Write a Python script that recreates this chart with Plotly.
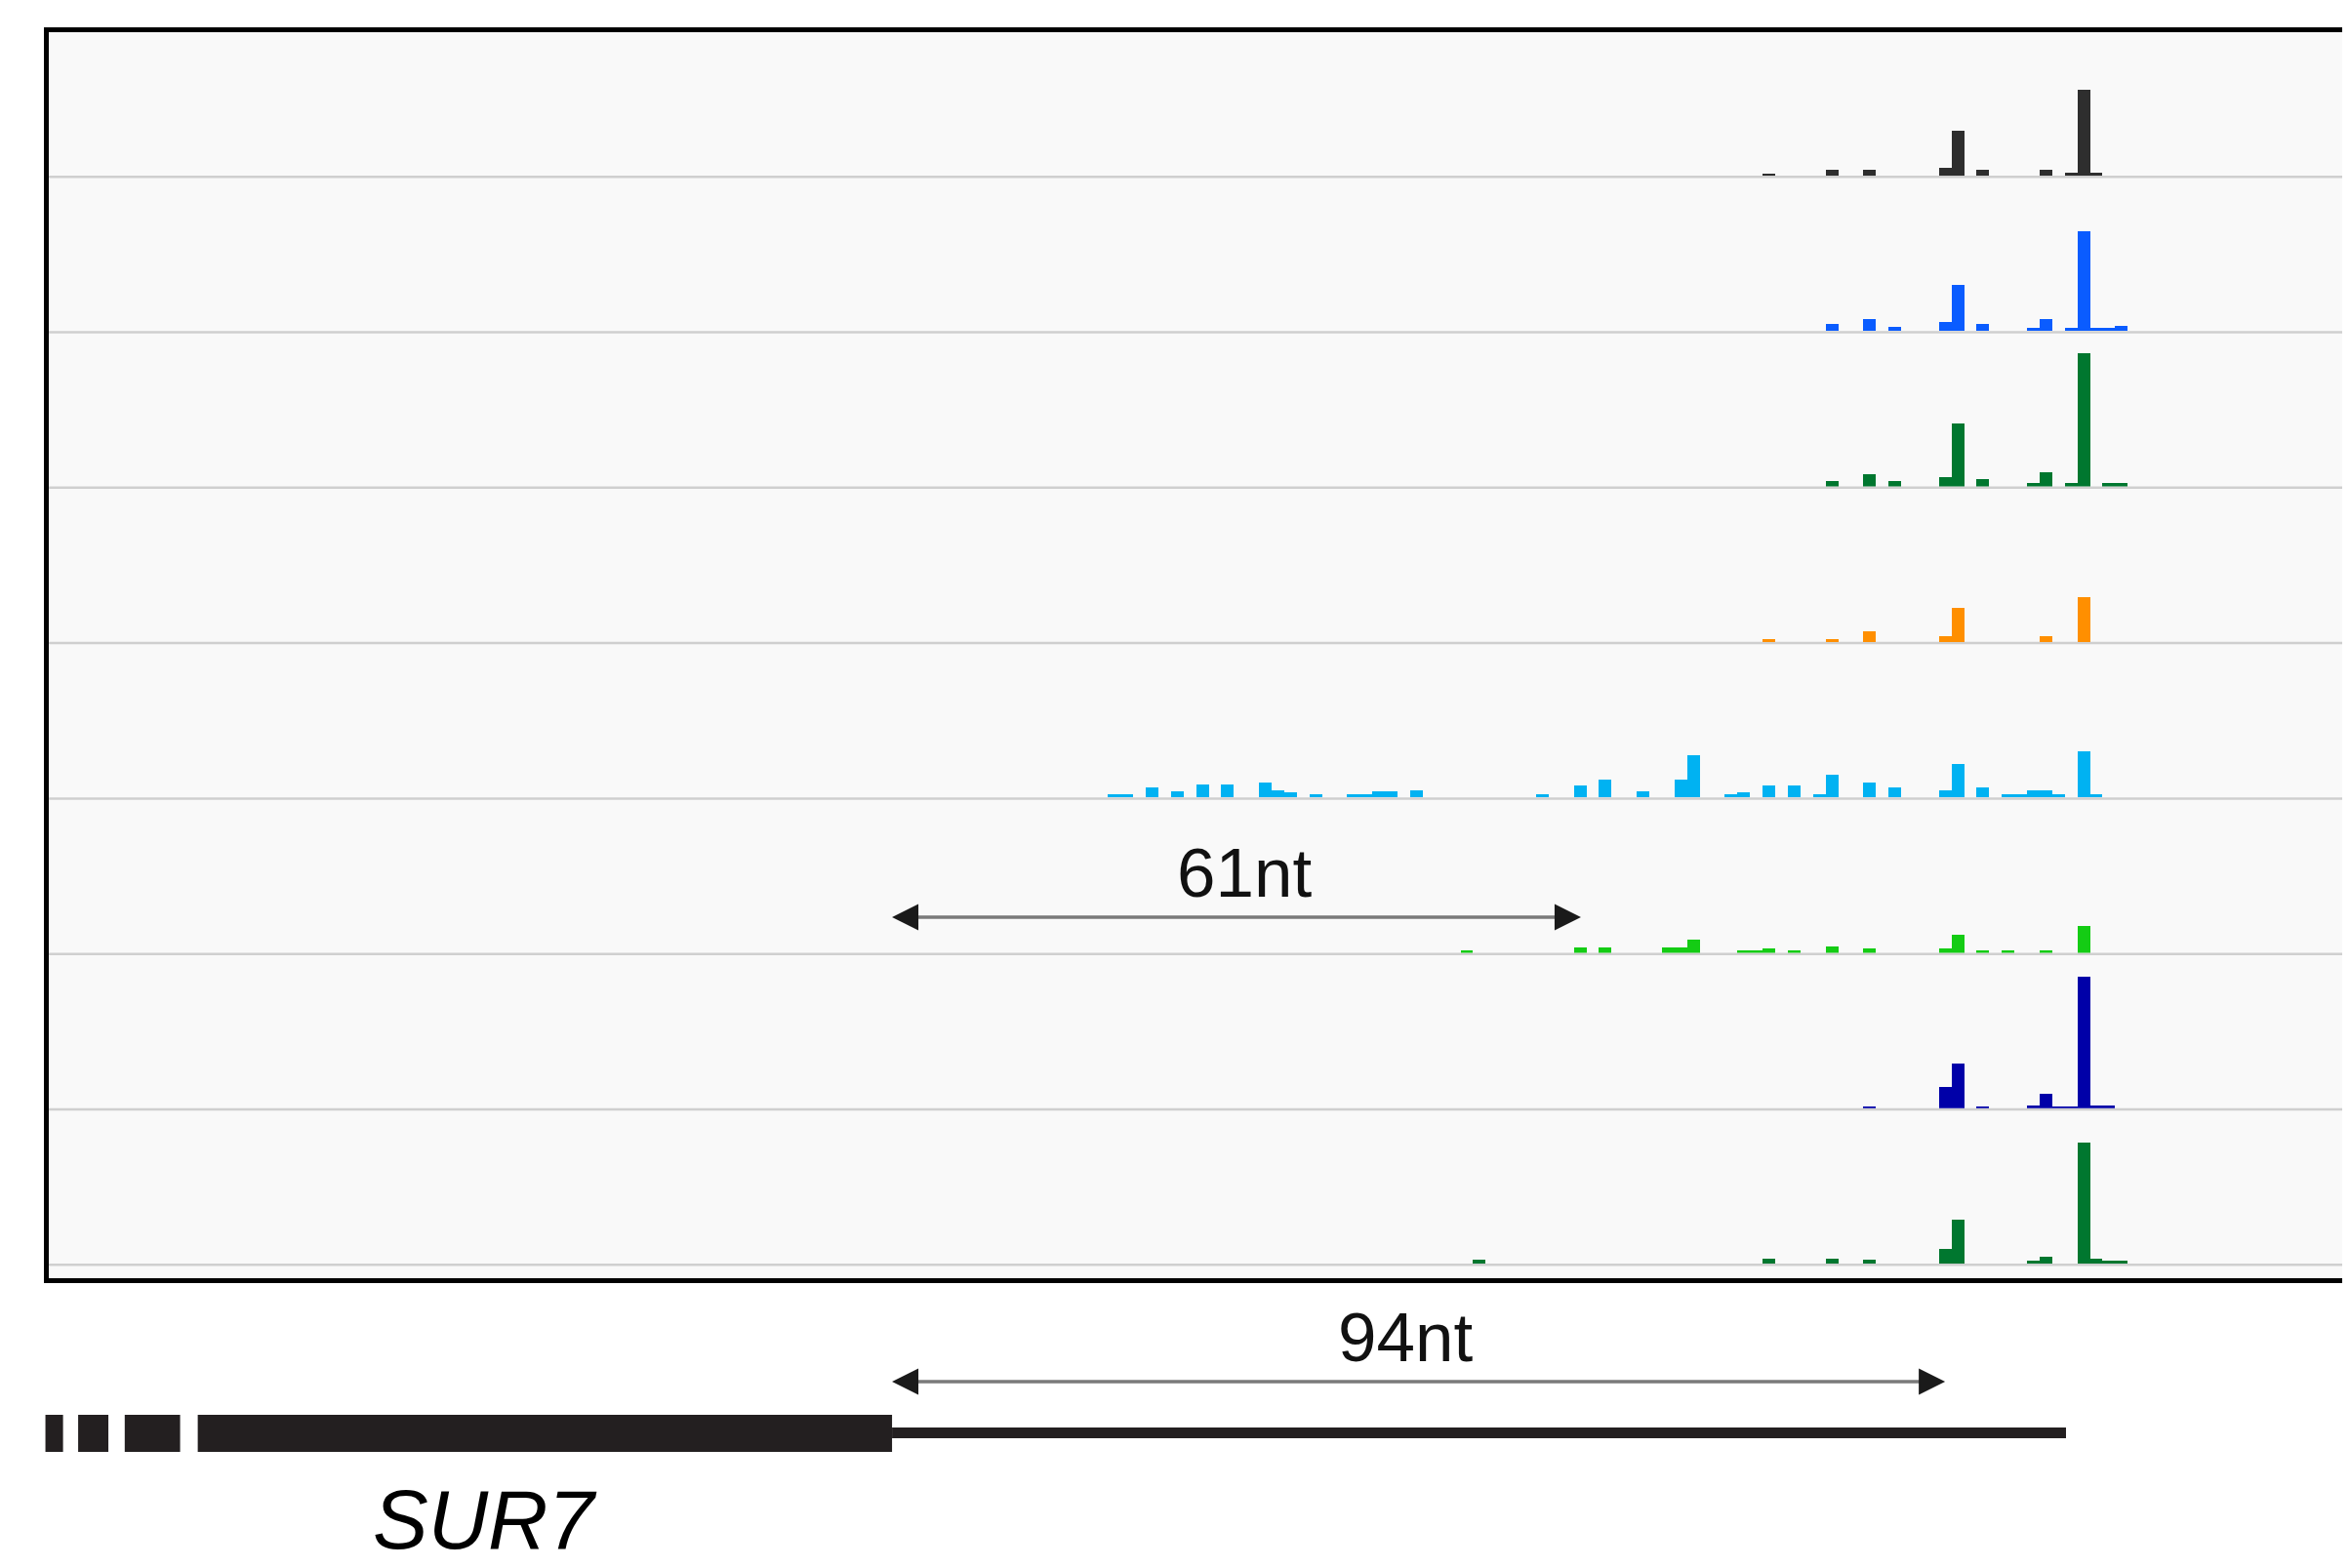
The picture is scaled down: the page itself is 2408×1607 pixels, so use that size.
import plotly.graph_objects as go

# ---------------- data ----------------
# positions are read-count bins (1 bin per bar), values are relative read density
TRACK_COLORS = ["#2e2e2e", "#0a5cff", "#00772f", "#ff8f00", "#00b2f2", "#14cc14", "#0000a8", "#00772f"]

T1_POS = [69, 74, 77, 83, 84, 86, 91, 93, 94, 95]
T1_VAL = [2.5, 6, 6, 8.5, 46, 6, 6, 3, 88, 3]

T2_POS = [74, 77, 79, 83, 84, 86, 90, 91, 93, 94, 95, 96, 97]
T2_VAL = [7, 12, 4, 9, 47, 7, 3.5, 12, 3, 102, 3, 3, 5.5]

T3_POS = [74, 77, 79, 83, 84, 86, 90, 91, 93, 94, 96, 97]
T3_VAL = [6.5, 13, 6.5, 10, 65, 8, 4, 15, 4, 137, 4, 4]

T4_POS = [69, 74, 77, 83, 84, 91, 94]
T4_VAL = [3.5, 3.5, 11.5, 6, 35, 6, 46]

T5_POS = [17, 18, 20, 22, 24, 26, 29, 30, 31, 33, 36, 37, 38, 39, 41, 51, 54, 56, 59, 62, 63,
          66, 67, 69, 71, 73, 74, 77, 79, 83, 84, 86, 88, 89, 90, 91, 92, 94, 95]
T5_VAL = [2.7, 2.7, 10, 6, 12.7, 12.7, 15, 7, 5, 2.7, 2.7, 2.7, 6, 6, 7, 2.7, 12, 17.7, 6, 17.7, 42.7,
          3, 5, 12, 12, 2.7, 22.7, 15, 10, 6.7, 33.7, 10, 2.7, 2.7, 6.7, 6.7, 2.7, 47, 2.7]

T6_POS = [45, 54, 56, 61, 62, 63, 67, 68, 69, 71, 74, 77, 83, 84, 86, 88, 91, 94]
T6_VAL = [2.7, 5.7, 5.7, 5.7, 5.7, 14, 2.7, 2.7, 5, 2.7, 7.3, 5, 5, 19.3, 2.7, 2.7, 2.7, 28]

T7_POS = [77, 83, 84, 86, 90, 91, 92, 93, 94, 95, 96]
T7_VAL = [2, 22.5, 46, 2, 3.5, 15, 2, 2, 135, 3.5, 3.5]

T8_POS = [46, 69, 74, 77, 83, 84, 90, 91, 94, 95, 96, 97]
T8_VAL = [4, 5, 5, 4, 15, 45, 3, 7, 124, 5, 3, 3]

TRACK_POS = [T1_POS, T2_POS, T3_POS, T4_POS, T5_POS, T6_POS, T7_POS, T8_POS]
TRACK_VAL = [T1_VAL, T2_VAL, T3_VAL, T4_VAL, T5_VAL, T6_VAL, T7_VAL, T8_VAL]

# gene model (same bin coordinates)
EXON_START = [-67.9, -65.3, -61.6, -55.8]
EXON_END = [-66.5, -62.9, -57.2, -0.65]
UTR_START, UTR_END = -0.65, 92.6
GENE_NAME = "SUR7"

SPAN_LABELS = ["61nt", "94nt"]
SPAN_START = [-0.65, -0.65]
SPAN_END = [54.07, 83.0]
SPAN_LABEL_X = [27.3, 40.1]

# ---------------- layout constants ----------------
PAGE_W, PAGE_H = 2408, 1607
OFF = 8                      # default page margin of the html body
W, H = PAGE_W - OFF, PAGE_H - OFF
PX0, PX_PER_BIN = 922.45, 12.9
X_RANGE = [(OFF - PX0) / PX_PER_BIN, (PAGE_W - PX0) / PX_PER_BIN]
BASE0, TRACK_STEP, TRACK_H = 180.0, 159.3, 150.0


def py(p):
    return 1 - (p - OFF) / H


def pxp(p):
    return (p - OFF) / W


fig = go.Figure()
shapes = []
annotations = []

# panel background + border
shapes.append(dict(type="rect", xref="paper", yref="paper", x0=pxp(47.5), x1=1.03,
                   y0=py(1312.5), y1=py(30.5), fillcolor="#f9f9f9",
                   line=dict(color="black", width=5), layer="below"))

layout_axes = {}
for i in range(8):
    base = BASE0 + TRACK_STEP * i
    yname = "y" if i == 0 else f"y{i + 1}"
    axkey = "yaxis" if i == 0 else f"yaxis{i + 1}"
    layout_axes[axkey] = dict(domain=[py(base), py(base - TRACK_H)], range=[0, TRACK_H],
                              visible=False, fixedrange=True)
    shapes.append(dict(type="line", xref="paper", yref="paper", x0=pxp(50), x1=1.03,
                       y0=py(base + 1.2), y1=py(base + 1.2),
                       line=dict(color="#cfcfcf", width=2.5), layer="below"))
    fig.add_trace(go.Bar(x=TRACK_POS[i], y=TRACK_VAL[i], width=1, xaxis="x", yaxis=yname,
                         marker=dict(color=TRACK_COLORS[i], line=dict(width=0)),
                         showlegend=False, hoverinfo="skip"))

# gene model
for s, e in zip(EXON_START, EXON_END):
    shapes.append(dict(type="rect", xref="x", yref="paper", x0=s, x1=e,
                       y0=py(1488), y1=py(1450), fillcolor="#231f20", line=dict(width=0)))
shapes.append(dict(type="rect", xref="x", yref="paper", x0=UTR_START, x1=UTR_END,
                   y0=py(1474), y1=py(1463), fillcolor="#231f20", line=dict(width=0)))
annotations.append(dict(text=GENE_NAME, xref="paper", yref="paper", x=pxp(497), y=py(1557),
                        showarrow=False, xanchor="center", yanchor="middle",
                        font=dict(family="Liberation Sans, Arial", size=85, color="black",
                                  style="italic")))

# span arrows
SPAN_Y = [940, 1416]
SPAN_TEXT_Y = [895, 1370]
for lab, s, e, lx, ay, ty in zip(SPAN_LABELS, SPAN_START, SPAN_END, SPAN_LABEL_X, SPAN_Y, SPAN_TEXT_Y):
    shapes.append(dict(type="line", xref="x", yref="paper", x0=s + 0.8, x1=e - 0.8,
                       y0=py(ay), y1=py(ay), line=dict(color="#7a7a7a", width=3.5)))
    for tip, tail in ((s, s + 1.8), (e, e - 1.8)):
        annotations.append(dict(text="", xref="x", yref="paper", x=tip, y=py(ay),
                                axref="x", ax=tail, ayref="pixel", ay=0, showarrow=True,
                                arrowhead=2, arrowsize=1.8, arrowwidth=3, arrowcolor="#1a1a1a"))
    annotations.append(dict(text=lab, xref="x", yref="paper", x=lx, y=py(ty), showarrow=False,
                            xanchor="center", yanchor="middle",
                            font=dict(family="Liberation Sans, Arial", size=71, color="#111111")))

fig.update_layout(
    width=W, height=H,
    margin=dict(l=0, r=0, t=0, b=0),
    paper_bgcolor="white", plot_bgcolor="rgba(0,0,0,0)",
    bargap=0, barmode="overlay",
    xaxis=dict(domain=[0, 1], range=X_RANGE, visible=False, fixedrange=True),
    shapes=shapes, annotations=annotations,
    **layout_axes,
)

fig.write_html("out.html", config={"displayModeBar": False})
